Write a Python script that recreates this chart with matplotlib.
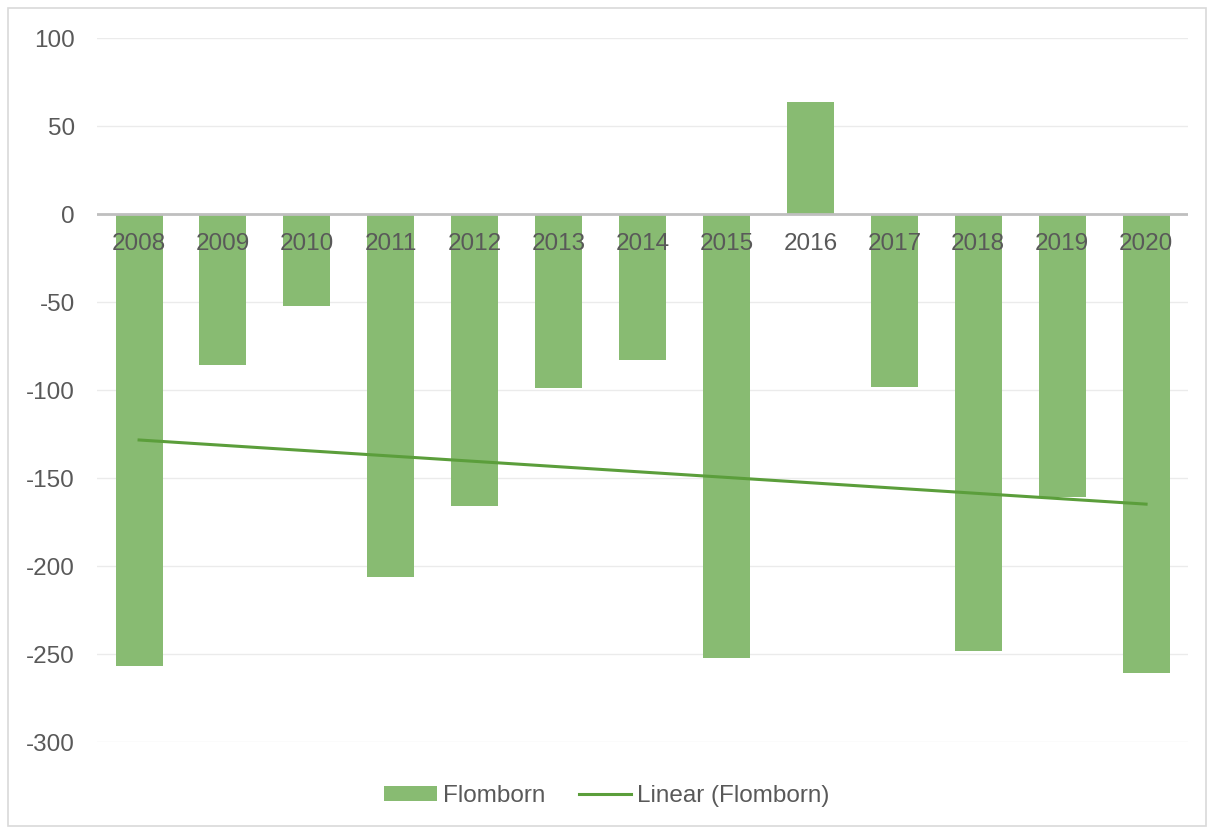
import matplotlib.pyplot as plt
from matplotlib.patches import Rectangle
import numpy as np

years = ['2008', '2009', '2010', '2011', '2012', '2013', '2014',
         '2015', '2016', '2017', '2018', '2019', '2020']
values = [-257, -86, -52, -206, -166, -99, -83, -252, 63.5, -98, -248, -161, -261]

plt.rcParams['font.family'] = ['Liberation Sans', 'DejaVu Sans']
plt.rcParams['axes.unicode_minus'] = False

fig = plt.figure(figsize=(12.14, 8.3), dpi=100)
ax = fig.add_axes([0.08, 0.106, 0.8986, 0.848])

x = np.arange(len(years))
bars = ax.bar(x, values, width=0.56, color='#88bb72', label='Flomborn', zorder=2)

# linear trend, as Excel draws it
k, b = np.polyfit(x, values, 1)
trend, = ax.plot(x, k * x + b, color='#5b9e3b', lw=2.2, label='Linear (Flomborn)', zorder=3)

ax.set_xlim(-0.5, len(years) - 0.5)
ax.set_ylim(-300, 100)
ax.set_yticks(range(-300, 101, 50))
ax.grid(axis='y', color='#ebebeb', lw=1, zorder=0)
ax.axhline(0, color='#bfbfbf', lw=2, zorder=4)

for s in ax.spines.values():
    s.set_visible(False)
ax.tick_params(axis='y', length=0, pad=16, labelsize=17.5, labelcolor='#595959')
ax.set_xticks([])
for i, yr in enumerate(years):
    ax.annotate(yr, (i, 0), xytext=(0, -30), textcoords='offset pixels',
                ha='center', va='center', fontsize=17.5, color='#595959', zorder=5)

fig.legend([bars, trend], ['Flomborn', 'Linear (Flomborn)'],
           loc='center', bbox_to_anchor=(0.5, 0.041), ncol=2, frameon=False,
           fontsize=17.5, labelcolor='#595959', handlelength=2.15, handleheight=0.55,
           handletextpad=0.25, columnspacing=1.4)

fig.patches.append(Rectangle((8 / 1214, 4 / 830), 1198 / 1214, 818 / 830,
                             transform=fig.transFigure, fill=False,
                             edgecolor='#d9d9d9', lw=1.2))

fig.savefig('out.png', dpi=100)
